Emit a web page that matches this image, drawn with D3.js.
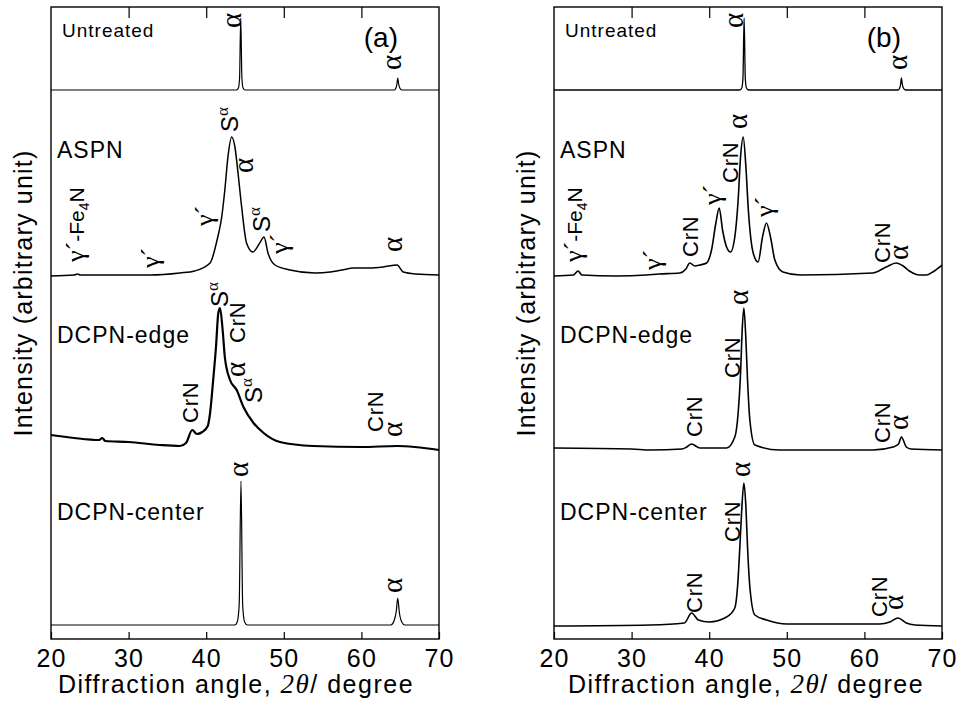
<!DOCTYPE html>
<html><head><meta charset="utf-8">
<script src="https://cdn.jsdelivr.net/npm/d3@7"></script>
<style>body{margin:0;background:#fff} svg{display:block}</style>
</head><body>
<svg id="c" width="961" height="702"></svg>
<script>
// ---------- data ----------
const xTicks = [20, 30, 40, 50, 60, 70];
const sampleNames = ["Untreated", "ASPN", "DCPN-edge", "DCPN-center"];
const panelTags = ["(a)", "(b)"];
// baseline (offset) of each stacked pattern, arbitrary units
const offsetsA = [549, 363, 189, 14];
const offsetsB = [549, 363, 189, 13];

// panel (a): [2theta, intensity above baseline]
const untreatedA = [[20,0],[43.9,0],[44.15,2],[44.3,12],[44.45,72],[44.6,12],[44.75,2],[45,0],[64.25,0],[64.45,2],[64.58,6],[64.68,12],[64.8,6],[64.95,2],[65.2,0],[70,0]];
const aspnA = [[20,0],[23,1],[23.4,2],[23.8,1],[26,1],[32.8,1],[36.6,3],[38.5,5],[40.5,13],[41.4,36],[42.0,59],[42.4,86],[42.8,119],[43.28,139],[43.7,129],[44.1,103],[44.57,69],[45.2,33],[46.0,24],[46.9,33],[47.45,39],[47.96,23],[48.87,11],[50.8,6],[54,3],[56.0,4],[57.5,6],[59,8],[61,8],[62.8,9],[64.6,11],[65.4,4],[67,2],[70,1]];
const edgeA = [[20,15],[23,12],[26.2,10],[26.6,12],[27,9],[30,8],[34,5],[36.6,4],[37.4,7],[38.2,20],[38.8,16],[39.5,18],[40.2,24],[40.5,37],[40.9,70],[41.26,103],[41.56,137],[41.78,142],[42.12,120],[42.4,93],[43.07,70],[43.93,60],[44.8,43],[46.1,27],[47.4,17],[49.5,8],[53.8,4],[60,3],[64.6,4],[70,0]];
const centerA = [[20,0],[43.7,0],[44.0,3],[44.25,20],[44.48,144],[44.7,20],[44.95,3],[45.3,0],[63.8,0],[64.2,4],[64.5,14],[64.68,27],[64.9,12],[65.2,3],[65.6,0],[70,0]];

// panel (b)
const untreatedB = [[20,0],[43.95,0],[44.2,2],[44.35,12],[44.5,72],[44.65,12],[44.8,2],[45.05,0],[64.35,0],[64.55,2],[64.67,6],[64.77,12],[64.88,6],[65.02,2],[65.3,0],[70,0]];
const aspnB = [[20,0],[22.5,1],[23.1,5],[23.6,1],[28,0],[31.9,1],[33.5,2],[36.2,3],[37.0,7],[37.5,13],[38.16,10],[38.8,11],[39.66,13],[40.3,26],[40.86,53],[41.29,68],[41.72,46],[42.24,29],[42.75,24],[43.3,39],[43.73,76],[44.04,119],[44.38,139],[44.73,109],[45.02,69],[45.67,23],[46.3,14],[46.87,39],[47.38,53],[47.9,39],[48.46,16],[49.5,4],[51.7,1],[61.1,3],[62.8,9],[64.1,13],[65.0,10],[65.8,5],[67.1,1],[68.0,1],[68.8,4],[70,11]];
const edgeB = [[20,2],[30,1],[32.4,0],[36.5,1],[37.1,3],[37.73,6],[38.8,2],[42.24,2],[43.3,13],[43.73,37],[44.04,77],[44.25,120],[44.47,142],[44.73,110],[44.94,70],[45.24,30],[45.88,5],[49.1,0],[61.1,0],[63.7,3],[64.4,6],[64.77,13],[65.4,3],[66,1],[70,0]];
const centerB = [[20,0],[32.4,1],[36.8,3],[37.73,13],[38.6,6],[40,4],[42.24,9],[43.3,18],[43.65,39],[43.95,79],[44.17,113],[44.47,143],[44.73,119],[44.94,79],[45.24,39],[45.88,11],[47.4,6],[50,2],[62,2],[63.27,4],[64.34,8],[65.4,3],[66.5,1],[70,0]];

// peak labels: [kind, 2theta, intensity (absolute)]
// kinds: a = alpha, S = S-alpha, C = CrN, g = gamma', F = gamma'-Fe4N
const peakLabelsA = [
  ["a",44.48,611],["a",65.1,569],
  ["S",44.1,507],["a",46.03,466],["g",40.88,413],["g",33.9,371],["F",24.25,377],["S",48.2,407],["g",50.5,385],["a",65.23,387],
  ["S",42.8,332],["C",45.0,296],["a",45.0,262],["S",47.19,236],["C",38.94,216],["C",62.78,207],["a",65.23,202],
  ["a",45.39,162],["a",65.23,46]
];
const peakLabelsB = [
  ["a",44.34,611],["a",65.45,569],
  ["a",44.85,510],["C",43.69,456],["g",41.5,434],["g",48.2,422],["C",38.54,382],["g",33.78,369],["F",23.6,377],["C",63.27,376],["a",65.58,379],
  ["a",44.98,334],["C",43.95,261],["C",39.06,202],["C",63.27,196],["a",65.58,209],
  ["a",45.24,162],["C",43.95,97],["C",39.06,26],["C",62.88,22],["a",64.94,29]
];

// ---------- layout ----------
const SANS = "'Liberation Sans', Arial, Helvetica, sans-serif";
const SERIF = "'Liberation Serif', 'Times New Roman', serif";
const svg = d3.select("#c");
const plotTop = 7, plotBottom = 639;
const panels = [
  {left: 51, right: 439, titleShift: -9, offsets: offsetsA, traces: [untreatedA, aspnA, edgeA, centerA], labels: peakLabelsA, tag: panelTags[0], widths:[1.2,1.5,2.2,1.2]},
  {left: 554, right: 942, titleShift: -2, offsets: offsetsB, traces: [untreatedB, aspnB, edgeB, centerB], labels: peakLabelsB, tag: panelTags[1], widths:[1.3,1.6,1.6,1.6]}
];
const nameBaselines = [37, 158, 343, 520];
const nameDx = [11, 6, 6, 6];
const nameSize = [19, 23, 23, 23];

panels.forEach(p => {
  const x = d3.scaleLinear().domain([20, 70]).range([p.left, p.right]);
  const y = d3.scaleLinear().domain([0, plotBottom - plotTop]).range([plotBottom, plotTop]);
  const g = svg.append("g");

  // traces
  const line = d3.line().x(d => x(d[0])).y(d => y(d[1])).curve(d3.curveMonotoneX);
  p.traces.forEach((tr, i) => {
    const pts = tr.map(d => [d[0], d[1] + p.offsets[i]]);
    g.append("path").attr("d", line(pts)).attr("fill", "none")
      .attr("stroke", "#000").attr("stroke-width", p.widths[i]).attr("stroke-linejoin", "round");
  });

  // frame
  g.append("rect").attr("x", p.left).attr("y", plotTop).attr("width", p.right - p.left).attr("height", plotBottom - plotTop)
    .attr("fill", "none").attr("stroke", "#000").attr("stroke-width", 1.4);

  // bottom axis
  const ax = g.append("g").attr("transform", `translate(0,${plotBottom})`)
    .call(d3.axisBottom(x).tickValues(xTicks).tickSizeInner(-7).tickSizeOuter(0).tickPadding(10));
  ax.select(".domain").remove();
  ax.selectAll("line").attr("stroke-width", 1.2);
  ax.selectAll("text").attr("font-family", SANS).attr("font-size", 25).attr("letter-spacing", 1.2).attr("fill", "#000");
  // top axis
  const axt = g.append("g").attr("transform", `translate(0,${plotTop})`)
    .call(d3.axisTop(x).tickValues(xTicks.slice(1, -1)).tickSizeInner(-11).tickSizeOuter(0).tickFormat(""));
  axt.select(".domain").remove();
  axt.selectAll("line").attr("stroke-width", 1.2);

  // axis titles
  const xt = g.append("text").attr("x", (p.left + p.right) / 2 + p.titleShift).attr("y", 693).attr("text-anchor", "middle")
    .attr("font-family", SANS).attr("font-size", 25).attr("letter-spacing", 1.5);
  xt.append("tspan").text("Diffraction angle, ");
  xt.append("tspan").attr("font-style", "italic").attr("font-family", SERIF).attr("font-size", 27).text("2θ");
  xt.append("tspan").text("/ degree");

  g.append("text").attr("transform", `translate(${p.left - 19},${(plotTop + plotBottom) / 2 - 30}) rotate(-90)`)
    .attr("text-anchor", "middle").attr("font-family", SANS).attr("font-size", 25).attr("letter-spacing", 1.2)
    .text("Intensity (arbitrary unit)");

  // sample names
  sampleNames.forEach((n, i) => {
    g.append("text").attr("x", p.left + nameDx[i]).attr("y", nameBaselines[i])
      .attr("font-family", SANS).attr("font-size", nameSize[i]).attr("letter-spacing", 1).text(n);
  });

  // panel tag
  g.append("text").attr("x", p.right - 41).attr("y", 47).attr("text-anchor", "end")
    .attr("font-family", SANS).attr("font-size", 28).text(p.tag);

  // peak labels
  p.labels.forEach(([k, tx, ty]) => {
    const t = g.append("text").attr("transform", `translate(${x(tx)},${y(ty)}) rotate(-90)`)
      .attr("text-anchor", "start").attr("fill", "#000");
    if (k === "a") {
      t.attr("font-family", SERIF).attr("font-size", 29).text("α");
    } else if (k === "S") {
      t.append("tspan").attr("font-family", SANS).attr("font-size", 24).text("S");
      t.append("tspan").attr("font-family", SERIF).attr("font-size", 17).attr("dy", -10).text("α");
    } else if (k === "C") {
      t.attr("font-family", SANS).attr("font-size", 22).attr("letter-spacing", 0.8).text("CrN");
    } else if (k === "g") {
      t.attr("font-family", SERIF).attr("font-size", 26).text("γ´");
    } else if (k === "F") {
      t.append("tspan").attr("font-family", SERIF).attr("font-size", 26).text("γ´");
      t.append("tspan").attr("font-family", SANS).attr("font-size", 21).text("-Fe");
      t.append("tspan").attr("font-family", SANS).attr("font-size", 14).attr("dy", 5).text("4");
      t.append("tspan").attr("font-family", SANS).attr("font-size", 21).attr("dy", -5).text("N");
    }
  });
});
</script>
</body></html>
